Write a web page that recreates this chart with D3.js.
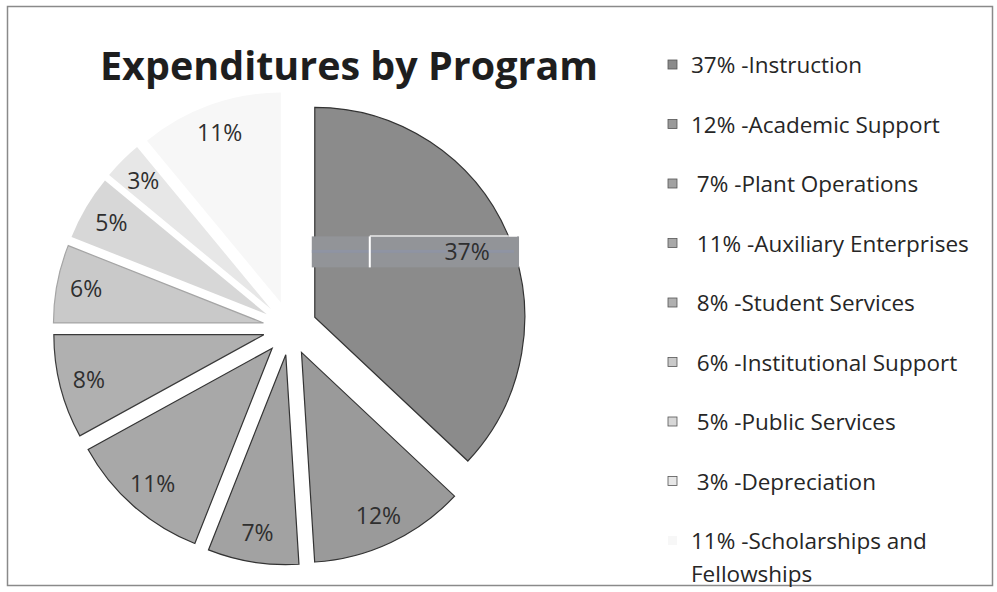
<!DOCTYPE html>
<html>
<head>
<meta charset="utf-8">
<script src="https://cdn.jsdelivr.net/npm/d3@7"></script>
<style>
  body { margin: 0; background: #fff; }
  text { font-family: "Open Sans", sans-serif; }
</style>
</head>
<body>
<div id="chart"></div>
<script>
// data
const programs = ["Instruction", "Academic Support", "Plant Operations", "Auxiliary Enterprises",
                  "Student Services", "Institutional Support", "Public Services", "Depreciation",
                  "Scholarships and Fellowships"];
const shares = [37, 12, 7, 11, 8, 6, 5, 3, 11];
const sliceLabels = ["37%", "12%", "7%", "11%", "8%", "6%", "5%", "3%", "11%"];
// legend text as printed (leading spaces and the line break are in the original)
const legendLines = [
    ["37% -Instruction"],
    ["12% -Academic Support"],
    [" 7% -Plant Operations"],
    [" 11% -Auxiliary Enterprises"],
    [" 8% -Student Services"],
    [" 6% -Institutional Support"],
    [" 5% -Public Services"],
    [" 3% -Depreciation"],
    ["11% -Scholarships and", "Fellowships"]
];
const title = "Expenditures by Program";

const width = 997, height = 592;
const cx = 290, cy = 328, radius = 210, explode = 27;

// greys get lighter going round the pie
const fills = ["#8b8b8b", "#9a9a9a", "#a2a2a2", "#a8a8a8", "#b0b0b0", "#c9c9c9", "#d7d7d7", "#e7e7e7", "#f7f7f7"];
const strokes = ["#333", "#333", "#333", "#333", "#3a3a3a", "#a5a5a5", "none", "none", "none"];

const color = d3.scaleOrdinal().domain(programs).range(fills);
const edge = d3.scaleOrdinal().domain(programs).range(strokes);

const svg = d3.select("#chart")
    .append("svg")
    .attr("width", width)
    .attr("height", height);

// frame of the chart area
svg.append("rect")
    .attr("x", 7.5).attr("y", 6.5)
    .attr("width", 985).attr("height", 579)
    .attr("fill", "none")
    .attr("stroke", "#8a8a8a")
    .attr("stroke-width", 1.5);

// title
svg.append("text")
    .attr("x", 349)
    .attr("y", 80)
    .attr("text-anchor", "middle")
    .attr("textLength", 498)
    .attr("lengthAdjust", "spacingAndGlyphs")
    .style("font-size", "40px")
    .style("font-weight", "bold")
    .attr("fill", "#1e1e1e")
    .text(title);

const pie = d3.pie().sort(null).value(function(d) { return d; });
const arcs = pie(shares);

const arc = d3.arc().innerRadius(0).outerRadius(radius);

function mid(d) { return (d.startAngle + d.endAngle) / 2; }
function shift(d) {
    const a = mid(d);
    return [explode * Math.sin(a), -explode * Math.cos(a)];
}
function labelPos(d) {
    const lr = d.data >= 30 ? radius * 0.79 : radius * 0.86;
    return d3.arc().innerRadius(lr).outerRadius(lr).centroid(d);
}

const g = svg.append("g")
    .attr("transform", "translate(" + cx + "," + cy + ")");

const slices = g.selectAll("g.slice")
    .data(arcs)
    .enter()
    .append("g")
    .attr("class", "slice")
    .attr("transform", function(d) { const s = shift(d); return "translate(" + s[0] + "," + s[1] + ")"; });

slices.append("path")
    .attr("d", arc)
    .attr("fill", function(d, i) { return color(programs[i]); })
    .attr("stroke", function(d, i) { return edge(programs[i]); })
    .attr("stroke-width", 1.2);

// the scan has a pasted-over strip behind the 37% label
const big = slices.filter(function(d) { return d.data >= 30; });
const bp = labelPos(arcs[0]);
big.append("rect")
    .attr("x", -3).attr("y", bp[1] - 15)
    .attr("width", bp[0] + 55).attr("height", 31)
    .attr("fill", "#929498");
big.append("rect")
    .attr("x", -3).attr("y", bp[1] - 1.5)
    .attr("width", bp[0] + 50).attr("height", 3)
    .attr("fill", "#8c93ad")
    .attr("opacity", 0.55);
big.append("rect")
    .attr("x", 54).attr("y", bp[1] - 15)
    .attr("width", 2).attr("height", 31)
    .attr("fill", "#fff");
big.append("rect")
    .attr("x", 55).attr("y", bp[1] - 16)
    .attr("width", bp[0] - 5).attr("height", 1.2)
    .attr("fill", "#fff");

slices.append("text")
    .attr("transform", function(d) { const p = labelPos(d); return "translate(" + p[0] + "," + p[1] + ")"; })
    .attr("text-anchor", "middle")
    .attr("dy", "0.36em")
    .style("font-size", "23px")
    .attr("fill", "#2f2f2f")
    .text(function(d, i) { return sliceLabels[i]; });

// legend
const legend = svg.append("g").attr("transform", "translate(668,65)");
const rowGap = 59.5;

const items = legend.selectAll("g.item")
    .data(programs)
    .enter()
    .append("g")
    .attr("class", "item")
    .attr("transform", function(d, i) { return "translate(0," + i * rowGap + ")"; });

items.append("rect")
    .attr("x", 0).attr("y", -5)
    .attr("width", 9).attr("height", 9)
    .attr("fill", function(d) { return color(d); })
    .attr("stroke", function(d, i) { return i < 8 ? "#555" : "none"; })
    .attr("stroke-width", 0.8);

items.append("text")
    .attr("x", 23)
    .attr("y", 8)
    .style("font-size", "22.5px")
    .style("white-space", "pre")
    .attr("fill", "#262626")
    .each(function(d, i) {
        const t = d3.select(this);
        legendLines[i].forEach(function(line, k) {
            t.append("tspan")
                .attr("x", 23)
                .attr("dy", k === 0 ? 0 : 33)
                .text(line);
        });
    });
</script>
</body>
</html>
